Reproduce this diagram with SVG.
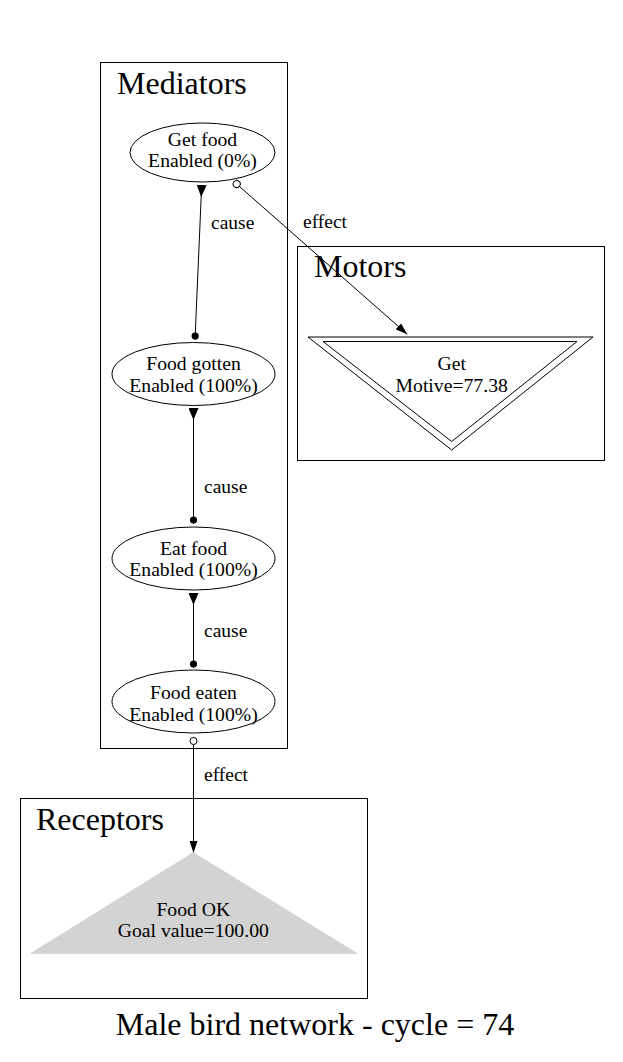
<svg xmlns="http://www.w3.org/2000/svg" width="623" height="1062" viewBox="0 0 623 1062">
<style>
text{font-family:"Liberation Serif","Times New Roman",serif;fill:#000}
.cl{fill:none;stroke:#000;stroke-width:1}
.cll{font-size:32px}
.nd{fill:none;stroke:#000;stroke-width:1}
.nt{font-size:19.7px;text-anchor:middle}
.el{font-size:19.5px}
.ed{fill:none;stroke:#000;stroke-width:1}
</style>
<defs>
<marker id="inv" viewBox="0 0 12 10" refX="0" refY="5" markerWidth="12" markerHeight="10" markerUnits="userSpaceOnUse" orient="auto"><path d="M0,0 L12,5 L0,10 z" fill="#000"/></marker>
<marker id="dot" viewBox="0 0 8 8" refX="8" refY="4" markerWidth="8" markerHeight="8" markerUnits="userSpaceOnUse" orient="auto"><circle cx="4" cy="4" r="3.6" fill="#000"/></marker>
<marker id="odot" viewBox="0 0 9 9" refX="0.5" refY="4.5" markerWidth="9" markerHeight="9" markerUnits="userSpaceOnUse" orient="auto"><circle cx="4.5" cy="4.5" r="3.5" fill="#fff" stroke="#000" stroke-width="1"/></marker>
<marker id="arr" viewBox="0 0 12 8" refX="12" refY="4" markerWidth="12" markerHeight="8" markerUnits="userSpaceOnUse" orient="auto"><path d="M0,0 L12,4 L0,8 z" fill="#000"/></marker>
</defs>
<rect x="0" y="0" width="623" height="1062" fill="#fff"/>

<g id="cluster_mediators">
<rect class="cl" x="100.5" y="62.5" width="187" height="686"/>
<text class="cll" x="117" y="94">Mediators</text>
</g>
<g id="cluster_motors">
<rect class="cl" x="297.5" y="246.5" width="307" height="214"/>
<text class="cll" x="314" y="277">Motors</text>
</g>
<g id="cluster_receptors">
<rect class="cl" x="20.5" y="798.5" width="347" height="200"/>
<text class="cll" x="36" y="830">Receptors</text>
</g>

<g id="connectors">
<g id="e_getfood_foodgotten">
<path class="ed" d="M201.7,185 L195,340" marker-start="url(#inv)" marker-end="url(#dot)"/>
<text class="el" x="211" y="229">cause</text>
</g>
<g id="e_foodgotten_eatfood">
<path class="ed" d="M193.5,408 L193.5,524" marker-start="url(#inv)" marker-end="url(#dot)"/>
<text class="el" x="204" y="493">cause</text>
</g>
<g id="e_eatfood_foodeaten">
<path class="ed" d="M193.5,593 L193.5,668" marker-start="url(#inv)" marker-end="url(#dot)"/>
<text class="el" x="204" y="637">cause</text>
</g>
<g id="e_getfood_get">
<path class="ed" d="M233.7,181.4 L407.3,334.3" marker-start="url(#odot)" marker-end="url(#arr)"/>
<text class="el" x="303" y="228">effect</text>
</g>
<g id="e_foodeaten_foodok">
<path class="ed" d="M193.5,737 L193.5,853" marker-start="url(#odot)" marker-end="url(#arr)"/>
<text class="el" x="204" y="781">effect</text>
</g>
</g>

<g id="n_getfood">
<ellipse class="nd" cx="202.5" cy="152.5" rx="72.5" ry="29.5"/>
<text class="nt" x="202.5" y="145.5">Get food</text>
<text class="nt" x="202.5" y="167">Enabled (0%)</text>
</g>
<g id="n_foodgotten">
<ellipse class="nd" cx="193.5" cy="374" rx="81.5" ry="31.5"/>
<text class="nt" x="193.5" y="370">Food gotten</text>
<text class="nt" x="193.5" y="391.5">Enabled (100%)</text>
</g>
<g id="n_eatfood">
<ellipse class="nd" cx="193.5" cy="558.5" rx="81.5" ry="31.5"/>
<text class="nt" x="193.5" y="554.5">Eat food</text>
<text class="nt" x="193.5" y="576">Enabled (100%)</text>
</g>
<g id="n_foodeaten">
<ellipse class="nd" cx="193.5" cy="701.5" rx="81.5" ry="31.5"/>
<text class="nt" x="193.5" y="699">Food eaten</text>
<text class="nt" x="193.5" y="720.5">Enabled (100%)</text>
</g>
<g id="n_get">
<polygon class="nd" points="308,337 593,337 451.7,450"/>
<polygon class="nd" points="323,341.5 577,341.5 451.7,441.5"/>
<text class="nt" x="451.7" y="369.5">Get</text>
<text class="nt" x="451.7" y="391.5">Motive=77.38</text>
</g>
<g id="n_foodok">
<polygon points="193.3,852.7 356.7,953.3 31,953.3" fill="#d3d3d3" stroke="#d3d3d3"/>
<text class="nt" x="193.3" y="916">Food OK</text>
<text class="nt" x="193.3" y="937">Goal value=100.00</text>
</g>

<text x="315" y="1035" font-size="32" text-anchor="middle">Male bird network - cycle = 74</text>
</svg>
